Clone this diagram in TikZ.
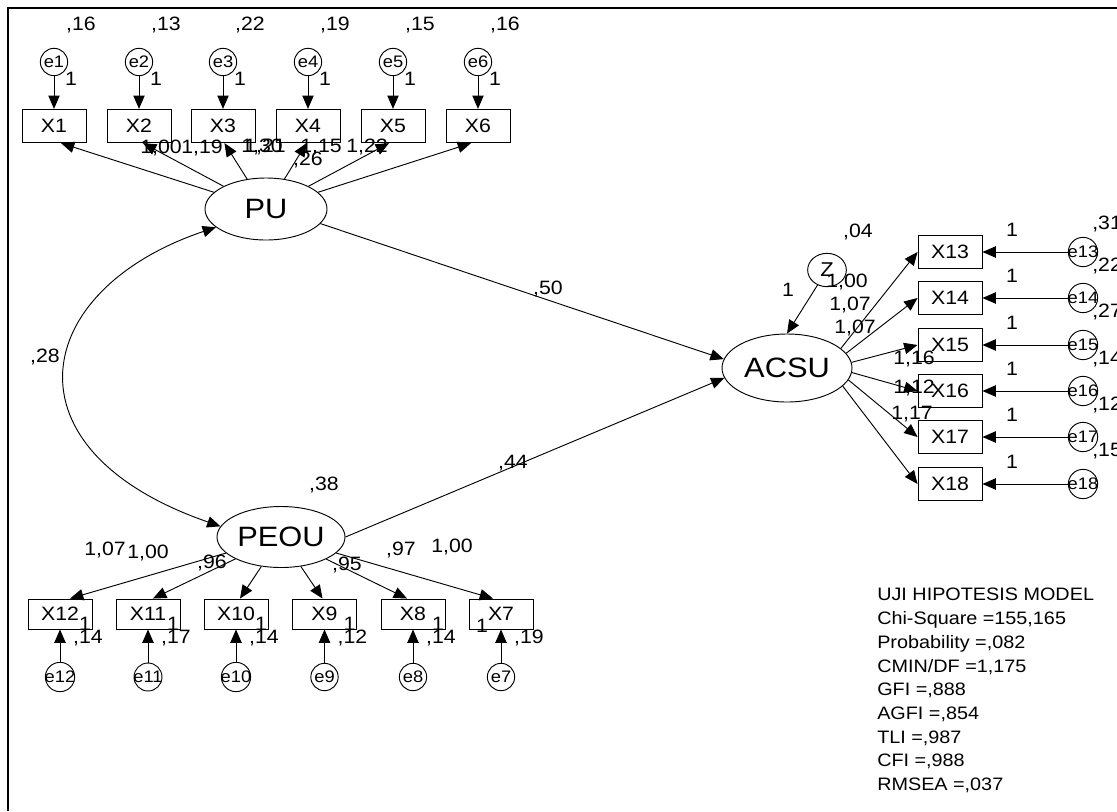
\documentclass[tikz,border=0pt]{standalone}
\usepackage{fontspec}
\setmainfont{Liberation Sans}[FakeStretch=1.1]
\usetikzlibrary{shapes.geometric, arrows.meta}

\begin{document}
\begin{tikzpicture}[
    x=0.75pt, y=-0.75pt,
    obs/.style={rectangle, draw, line width=0.7pt, minimum width=48pt, minimum height=25pt, inner sep=0pt, font=\fontsize{14.5}{16}\selectfont},
    lat/.style={ellipse, draw, line width=0.7pt, inner sep=0pt, font=\fontsize{21}{24}\selectfont},
    err/.style={circle, draw, line width=0.7pt, minimum size=20.5pt, inner sep=-1pt, font=\fontsize{12.5}{14}\selectfont},
    num/.style={inner sep=0pt, font=\fontsize{14.5}{16}\selectfont},
    arrow/.style={-{Triangle[length=10pt, width=8.5pt]}, line width=0.7pt},
    cov/.style={{Triangle[length=10pt, width=8.5pt]}-{Triangle[length=10pt, width=8.5pt]}, line width=0.7pt}
]
\useasboundingbox (0,0) rectangle (1117,811);
\draw[line width=2pt] (8,811) -- (8,8) -- (1117,8);

% latent variables
\node[lat, minimum width=91.5pt, minimum height=46.5pt] (pu) at (266,209) {PU};
\node[lat, minimum width=96pt, minimum height=45.75pt] (peou) at (281,537) {PEOU};
\node[lat, minimum width=97.5pt, minimum height=51pt] (acsu) at (787,368) {ACSU};
\node[lat, minimum width=29pt, minimum height=25pt, font=\fontsize{15}{17}\selectfont] (z) at (827,270) {Z};

% PU indicators
\node[obs] (x1) at (54,126) {X1};
\node[obs] (x2) at (139,126) {X2};
\node[obs] (x3) at (223,126) {X3};
\node[obs] (x4) at (308,126) {X4};
\node[obs] (x5) at (393,126) {X5};
\node[obs] (x6) at (478,126) {X6};
\node[err] (e1) at (54,62) {e1};
\node[err] (e2) at (139,62) {e2};
\node[err] (e3) at (223,62) {e3};
\node[err] (e4) at (308,62) {e4};
\node[err] (e5) at (393,62) {e5};
\node[err] (e6) at (478,62) {e6};
\node[num] (v1) at (81,25) {,16};
\node[num] (v2) at (166,25) {,13};
\node[num] (v3) at (250,25) {,22};
\node[num] (v4) at (335,25) {,19};
\node[num] (v5) at (420,25) {,15};
\node[num] (v6) at (505,25) {,16};
\node[num] (f1) at (71,79) {1};
\node[num] (f2) at (156,79) {1};
\node[num] (f3) at (240,79) {1};
\node[num] (f4) at (325,79) {1};
\node[num] (f5) at (410,79) {1};
\node[num] (f6) at (495,79) {1};

% PEOU indicators
\node[obs, minimum height=22.5pt] (x12) at (60,614) {X12};
\node[obs, minimum height=22.5pt] (x11) at (148,614) {X11};
\node[obs, minimum height=22.5pt] (x10) at (236,614) {X10};
\node[obs, minimum height=22.5pt] (x9) at (324.5,614) {X9};
\node[obs, minimum height=22.5pt] (x8) at (413,614) {X8};
\node[obs, minimum height=22.5pt] (x7) at (501,614) {X7};
\node[err] (e12) at (60,677) {e12};
\node[err] (e11) at (148,677) {e11};
\node[err] (e10) at (236,677) {e10};
\node[err] (e9) at (324.5,677) {e9};
\node[err] (e8) at (413,677) {e8};
\node[err] (e7) at (501,677) {e7};
\node[num] (v12) at (88,638) {,14};
\node[num] (v11) at (176,638) {,17};
\node[num] (v10) at (264,638) {,14};
\node[num] (v9) at (352.5,638) {,12};
\node[num] (v8) at (441,638) {,14};
\node[num] (v7) at (529,638) {,19};
\node[num] (f12) at (85,624) {1};
\node[num] (f11) at (173,624) {1};
\node[num] (f10) at (261,624) {1};
\node[num] (f9) at (349.5,624) {1};
\node[num] (f8) at (438,624) {1};
\node[num] (f7) at (482,626) {1};

% ACSU indicators
\node[obs] (x13) at (950,252) {X13};
\node[obs] (x14) at (950,298) {X14};
\node[obs] (x15) at (950,345) {X15};
\node[obs] (x16) at (950,391) {X16};
\node[obs] (x17) at (950,437) {X17};
\node[obs] (x18) at (950,484) {X18};
\node[err] (e13) at (1083,252) {e13};
\node[err] (e14) at (1083,298) {e14};
\node[err] (e15) at (1083,345) {e15};
\node[err] (e16) at (1083,391) {e16};
\node[err] (e17) at (1083,437) {e17};
\node[err] (e18) at (1083,484) {e18};
\node[num, anchor=west] (v13) at (1092,224) {,31};
\node[num, anchor=west] (v14) at (1092,266) {,22};
\node[num, anchor=west] (v15) at (1092,312) {,27};
\node[num, anchor=west] (v16) at (1092,359) {,14};
\node[num, anchor=west] (v17) at (1092,405) {,12};
\node[num, anchor=west] (v18) at (1092,451) {,15};
\node[num] (f13) at (1012,230) {1};
\node[num] (f14) at (1012,276) {1};
\node[num] (f15) at (1012,323) {1};
\node[num] (f16) at (1012,369) {1};
\node[num] (f17) at (1012,415) {1};
\node[num] (f18) at (1012,462) {1};

% estimates
\node[num] (l1) at (161,148) {1,00};
\node[num] (l2) at (202,148) {1,19};
\node[num] (l3) at (262,147) {1,30};
\node[num] (l4) at (265,147) {1,21};
\node[num] (l5) at (308,160) {,26};
\node[num] (l6) at (321,147) {1,15};
\node[num] (l7) at (367,147) {1,22};
\node[num] (l8) at (105,550) {1,07};
\node[num] (l9) at (148,553) {1,00};
\node[num] (l10) at (212,563) {,96};
\node[num] (l11) at (347,565) {,95};
\node[num] (l12) at (401,550) {,97};
\node[num] (l13) at (452,547) {1,00};
\node[num] (l14) at (847,282) {1,00};
\node[num] (l15) at (850,305) {1,07};
\node[num] (l16) at (855,328) {1,07};
\node[num] (l17) at (914,359) {1,16};
\node[num] (l18) at (914,388) {1,12};
\node[num] (l19) at (912,414) {1,17};
\node[num] (cpu) at (45,357) {,28};
\node[num] (vpeou) at (324,485) {,38};
\node[num] (vz) at (858,232) {,04};
\node[num] (fz) at (788,290) {1};
\node[num] (b1) at (548,289) {,50};
\node[num] (b2) at (513,463) {,44};

% fit statistics
\node[num, anchor=north west, align=left, font=\fontsize{13.5}{17.8}\selectfont] (fit) at (877,588)
    {UJI HIPOTESIS MODEL\\Chi-Square =155,165\\Probability =,082\\CMIN/DF =1,175\\GFI =,888\\AGFI =,854\\TLI =,987\\CFI =,988\\RMSEA =,037};

\draw[arrow] (e1) -- (x1);
\draw[arrow] (e2) -- (x2);
\draw[arrow] (e3) -- (x3);
\draw[arrow] (e4) -- (x4);
\draw[arrow] (e5) -- (x5);
\draw[arrow] (e6) -- (x6);
\draw[arrow] (pu) -- ([xshift=5.25pt]x1.south);
\draw[arrow] (pu) -- ([xshift=3pt]x2.south);
\draw[arrow] (pu) -- ([xshift=1.1pt]x3.south);
\draw[arrow] (pu) -- ([xshift=-1.1pt]x4.south);
\draw[arrow] (pu) -- ([xshift=-3pt]x5.south);
\draw[arrow] (pu) -- ([xshift=-5.25pt]x6.south);

\draw[arrow] (e12) -- (x12);
\draw[arrow] (e11) -- (x11);
\draw[arrow] (e10) -- (x10);
\draw[arrow] (e9) -- (x9);
\draw[arrow] (e8) -- (x8);
\draw[arrow] (e7) -- (x7);
\draw[arrow] (peou) -- ([xshift=7.5pt]x12.north);
\draw[arrow] (peou) -- ([xshift=3.75pt]x11.north);
\draw[arrow] (peou) -- ([xshift=3pt]x10.north);
\draw[arrow] (peou) -- ([xshift=-1.5pt]x9.north);
\draw[arrow] (peou) -- ([xshift=-4.5pt]x8.north);
\draw[arrow] (peou) -- ([xshift=-6pt]x7.north);

\draw[arrow] (e13) -- (x13);
\draw[arrow] (e14) -- (x14);
\draw[arrow] (e15) -- (x15);
\draw[arrow] (e16) -- (x16);
\draw[arrow] (e17) -- (x17);
\draw[arrow] (e18) -- (x18);
\draw[arrow] (acsu.20) -- (x13.west);
\draw[arrow] (acsu.14) -- (x14.west);
\draw[arrow] (acsu.5) -- (x15.west);
\draw[arrow] (acsu.356) -- (x16.west);
\draw[arrow] (acsu.349) -- (x17.west);
\draw[arrow] (acsu.342) -- (x18.west);

\draw[arrow] (z) -- (acsu.north);
\draw[arrow] (pu.345) -- (acsu.172);
\draw[arrow] (peou.east) -- (acsu.189);
\draw[cov] (pu.200) .. controls (30,290) and (0,450) .. (peou.170);
\end{tikzpicture}
\end{document}
